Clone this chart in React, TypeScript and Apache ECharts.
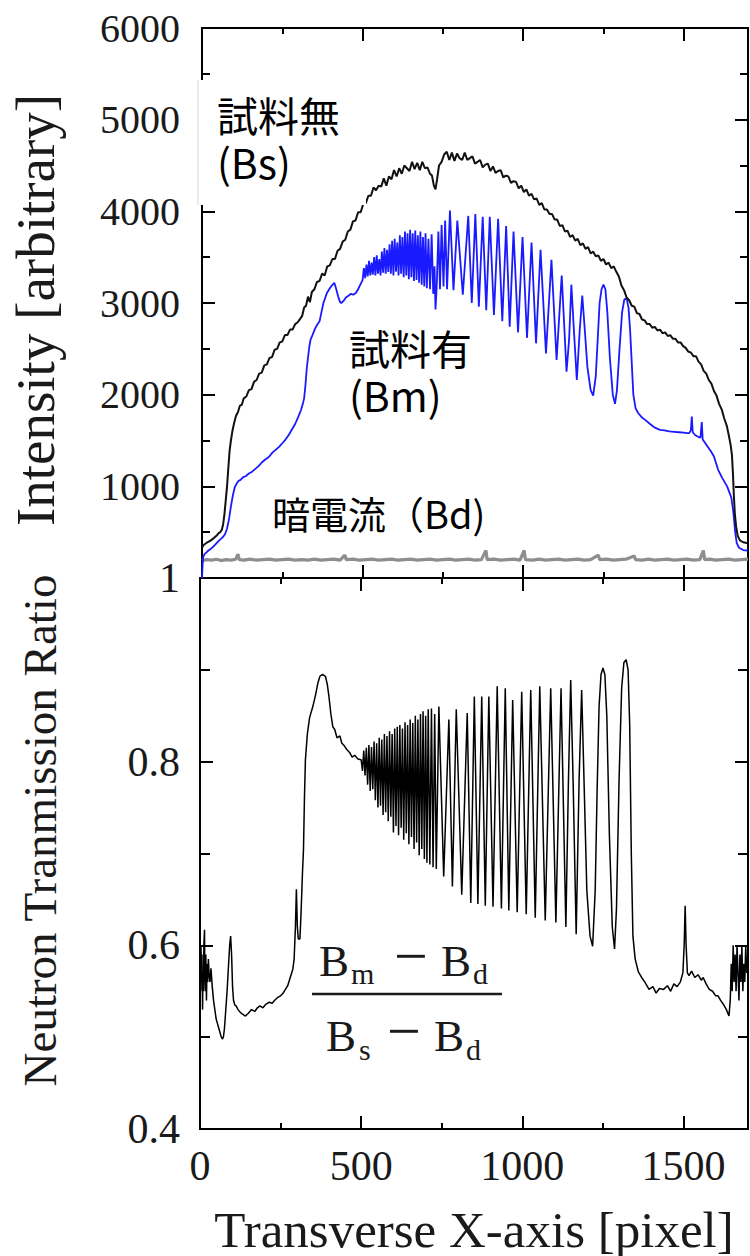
import React, { useEffect, useRef } from "react";
import * as echarts from "echarts";

// ---------- axis ranges / ticks ----------
const X_MIN = 0;
const X_MAX = 1700;
const X_MAJOR = 500;
const X_MINOR = 250;
const I_MIN = 0;
const I_MAX = 6000;
const I_STEP = 1000;
const R_MIN = 0.4;
const R_MAX = 1;
const R_STEP = 0.2;

// ---------- texts ----------
const xTitle = "Transverse X-axis [pixel]";
const yTopTitle = "Intensity [arbitrary]";
const yBottomTitle = "Neutron Tranmission Ratio";
const labelBs = "試料無\n(Bs)";
const labelBm = "試料有\n(Bm)";
const labelBd = "暗電流（Bd)";

// ---------- data: Bs (sample free, black) ----------
const bsData: [number, number][] = [
  [0, 330], [5, 360], [15, 385], [25, 405], [35, 430], [45, 460], [52, 490], [58, 505], [62, 530], [66, 590],
  [70, 700], [74, 850], [78, 1000], [82, 1200], [86, 1390], [90, 1500], [95, 1610], [100, 1690], [106, 1770],
  [112, 1810], [118, 1880], [124, 1890], [130, 1960], [138, 1980], [146, 2050], [154, 2060], [162, 2140],
  [170, 2160], [178, 2230], [186, 2240], [194, 2320], [202, 2330], [210, 2400], [218, 2410], [226, 2490],
  [234, 2500], [242, 2570], [250, 2580], [258, 2650], [266, 2650], [274, 2710], [282, 2710], [290, 2770],
  [298, 2790], [306, 2830], [312, 2860], [318, 2950], [324, 2970], [330, 3070], [336, 3010], [342, 3120],
  [350, 3150], [358, 3230], [366, 3240], [374, 3320], [382, 3300], [390, 3400], [398, 3410], [406, 3480],
  [414, 3480], [422, 3570], [430, 3590], [438, 3670], [446, 3690], [454, 3780], [462, 3800], [470, 3890],
  [478, 3900], [486, 3990], [494, 3990], [502, 4080], [510, 4090], [518, 4170], [526, 4170], [534, 4260],
  [542, 4230], [550, 4280], [558, 4270], [566, 4360], [574, 4280], [582, 4380], [590, 4350], [598, 4450],
  [606, 4380], [614, 4470], [622, 4410], [630, 4500], [638, 4470], [646, 4440], [654, 4540], [662, 4460],
  [670, 4530], [678, 4450], [686, 4540], [694, 4470], [702, 4480], [710, 4410], [716, 4390], [722, 4280],
  [727, 4240], [732, 4350], [738, 4500], [746, 4540], [754, 4620], [762, 4650], [770, 4560], [778, 4640],
  [786, 4550], [794, 4630], [802, 4580], [810, 4560], [818, 4640], [826, 4560], [834, 4580], [842, 4600],
  [850, 4520], [858, 4540], [866, 4560], [874, 4480], [882, 4510], [890, 4520], [898, 4440], [906, 4490],
  [914, 4420], [922, 4440], [930, 4450], [938, 4370], [946, 4390], [954, 4380], [962, 4310], [970, 4330],
  [978, 4320], [986, 4250], [994, 4280], [1002, 4210], [1010, 4240], [1018, 4170], [1026, 4190],
  [1034, 4130], [1042, 4140], [1050, 4070], [1058, 4090], [1066, 4020], [1074, 4020], [1082, 3970],
  [1090, 3970], [1098, 3910], [1106, 3910], [1114, 3840], [1122, 3850], [1130, 3780], [1138, 3790],
  [1146, 3720], [1154, 3740], [1162, 3680], [1170, 3700], [1178, 3630], [1186, 3650], [1194, 3590],
  [1202, 3610], [1210, 3540], [1218, 3560], [1226, 3510], [1234, 3520], [1242, 3460], [1250, 3480],
  [1258, 3420], [1266, 3440], [1274, 3380], [1282, 3400], [1290, 3340], [1298, 3290], [1306, 3190],
  [1314, 3140], [1322, 3060], [1330, 3030], [1338, 2970], [1346, 2960], [1354, 2890], [1362, 2880],
  [1370, 2820], [1378, 2810], [1386, 2770], [1394, 2770], [1402, 2730], [1410, 2740], [1418, 2700],
  [1426, 2710], [1434, 2670], [1442, 2680], [1450, 2640], [1458, 2650], [1466, 2610], [1474, 2610],
  [1482, 2570], [1490, 2570], [1498, 2530], [1506, 2510], [1514, 2470], [1522, 2460], [1530, 2420],
  [1538, 2420], [1546, 2360], [1554, 2330], [1562, 2260], [1570, 2230], [1578, 2160], [1586, 2120],
  [1594, 2040], [1602, 1990], [1610, 1900], [1618, 1840], [1626, 1740], [1634, 1660], [1640, 1560],
  [1646, 1450], [1650, 1340], [1653, 1150], [1656, 900], [1659, 700], [1663, 560], [1668, 460],
  [1675, 410], [1685, 390], [1700, 380],
];

// ---------- data: Bm (with sample, blue) ----------
const bmData: [number, number][] = [
  [0, 0], [2, 150], [4, 230], [8, 260], [14, 280], [20, 300], [28, 320], [36, 345], [44, 375], [52, 405],
  [60, 430], [66, 450], [72, 480], [78, 540], [84, 640], [90, 780], [96, 900], [102, 990], [108, 1030],
  [114, 1060], [120, 1070], [128, 1100], [136, 1110], [146, 1140], [156, 1160], [166, 1190], [176, 1220],
  [186, 1260], [196, 1290], [208, 1320], [220, 1370], [230, 1400], [240, 1430], [250, 1470], [260, 1510],
  [270, 1560], [280, 1620], [290, 1680], [300, 1760], [308, 1830], [314, 1900], [318, 1960], [322, 2100],
  [326, 2280], [330, 2400], [334, 2520], [338, 2600], [344, 2650], [352, 2720], [358, 2760], [366, 2800],
  [372, 2900], [378, 3000], [384, 3060], [389, 3110], [396, 3150], [404, 3190], [412, 3220], [418, 3150],
  [424, 3070], [430, 3010], [434, 3000], [440, 3020], [448, 3060], [456, 3080], [464, 3100], [471, 3090],
  [479, 3110], [486, 3150], [493, 3200],
  [500, 3250], [504, 3380], [508, 3270], [512, 3420], [516, 3290], [520, 3460], [524, 3300], [528, 3440],
  [532, 3310], [536, 3500], [540, 3300], [544, 3520], [548, 3320], [552, 3480], [556, 3300], [560, 3560],
  [564, 3330], [568, 3600], [572, 3320], [576, 3580], [580, 3340], [584, 3640], [588, 3320], [592, 3680],
  [596, 3300], [600, 3700], [604, 3340], [608, 3660], [612, 3300], [616, 3740], [620, 3320], [624, 3720],
  [628, 3280], [632, 3780], [636, 3300], [640, 3760], [644, 3260], [648, 3800], [652, 3280], [656, 3760],
  [660, 3240], [664, 3790], [668, 3250], [672, 3740], [676, 3220], [680, 3780], [684, 3200], [688, 3720],
  [692, 3180], [696, 3760], [700, 3160], [705, 3700], [710, 3150], [715, 3750], [720, 3100], [724, 3400],
  [727, 2930], [731, 3200], [736, 3780], [741, 3150], [746, 3850], [752, 3180], [757, 3900], [763, 3150],
  [772, 4010], [783, 3140], [795, 3900], [812, 3090], [829, 3950], [840, 3000], [851, 3970], [862, 2960],
  [874, 3940], [885, 2920], [896, 3940], [909, 2870], [922, 3920], [935, 2800], [947, 3840], [958, 2740],
  [970, 3780], [984, 2680], [998, 3720], [1012, 2620], [1026, 3660], [1040, 2560], [1054, 3580],
  [1071, 2450], [1088, 3470], [1104, 2380], [1120, 3300], [1135, 2250], [1143, 2600], [1150, 3200],
  [1158, 2700], [1167, 2160], [1176, 2700], [1184, 3080], [1192, 2700], [1200, 2300], [1210, 2050],
  [1218, 1990], [1226, 2200], [1232, 2600], [1238, 3000], [1244, 3150], [1250, 3200], [1256, 3150],
  [1262, 2900], [1270, 2400], [1279, 2000], [1286, 1900], [1292, 2050], [1300, 2500], [1308, 2900],
  [1315, 3040], [1322, 3050], [1328, 2950], [1333, 2700], [1338, 2350], [1343, 2000], [1350, 1850],
  [1358, 1800], [1370, 1750], [1380, 1725], [1395, 1680], [1410, 1640], [1426, 1616], [1440, 1610],
  [1455, 1600], [1470, 1595], [1485, 1590], [1500, 1585], [1510, 1580], [1517, 1580], [1522, 1610],
  [1525, 1760], [1528, 1590], [1535, 1560], [1545, 1540], [1552, 1530], [1556, 1700], [1559, 1510],
  [1565, 1480], [1575, 1430], [1585, 1380], [1594, 1325], [1607, 1180], [1620, 1090], [1635, 1000],
  [1648, 880], [1655, 700], [1660, 500], [1665, 380], [1672, 330], [1685, 305], [1700, 300],
];

// ---------- data: Bd (dark current, gray) ----------
const bdData: [number, number][] = [
  [0, 190], [15, 200], [30, 195], [45, 205], [60, 190], [75, 200], [90, 195], [105, 205], [112, 260],
  [116, 200], [130, 195], [150, 205], [170, 195], [190, 200], [210, 205], [230, 195], [250, 200],
  [270, 205], [290, 195], [310, 200], [330, 195], [350, 205], [370, 195], [390, 200], [410, 205],
  [430, 195], [445, 250], [449, 200], [470, 205], [490, 195], [510, 200], [530, 205], [550, 195],
  [570, 200], [590, 205], [610, 195], [630, 200], [650, 205], [670, 195], [690, 200], [710, 205],
  [730, 195], [750, 200], [770, 205], [790, 195], [810, 200], [830, 205], [850, 195], [870, 200],
  [884, 300], [888, 200], [910, 205], [930, 195], [950, 200], [970, 205], [990, 195], [1003, 300],
  [1007, 200], [1030, 195], [1050, 205], [1070, 195], [1090, 200], [1110, 205], [1130, 195], [1150, 200],
  [1170, 205], [1190, 195], [1210, 200], [1234, 250], [1238, 200], [1260, 205], [1280, 195], [1300, 200],
  [1320, 205], [1346, 240], [1350, 200], [1370, 195], [1390, 205], [1410, 195], [1430, 200], [1450, 205],
  [1470, 195], [1490, 200], [1510, 205], [1530, 195], [1550, 200], [1561, 300], [1565, 200], [1580, 205],
  [1600, 195], [1620, 200], [1640, 205], [1660, 195], [1680, 200], [1700, 205],
];

// ---------- data: transmission ratio (bottom panel) ----------
const ratioData: [number, number][] = [
  [0, 0.58], [2, 0.55], [3, 0.6], [5, 0.56], [6, 0.59], [8, 0.53], [9, 0.57], [11, 0.55], [12, 0.6],
  [14, 0.617], [15, 0.57], [17, 0.55], [18, 0.59], [20, 0.54], [22, 0.58], [24, 0.56], [26, 0.585],
  [28, 0.57], [31, 0.56], [34, 0.575], [38, 0.555], [42, 0.54], [46, 0.53], [50, 0.52], [54, 0.515],
  [58, 0.51], [62, 0.505], [66, 0.5], [70, 0.498], [73, 0.501], [76, 0.51], [80, 0.53], [84, 0.55],
  [88, 0.575], [92, 0.6], [95, 0.61], [98, 0.59], [101, 0.555], [104, 0.54], [108, 0.535], [112, 0.534],
  [118, 0.53], [125, 0.527], [132, 0.525], [141, 0.523], [150, 0.526], [160, 0.53], [170, 0.528],
  [178, 0.532], [186, 0.534], [195, 0.532], [205, 0.536], [215, 0.538], [224, 0.537], [231, 0.54],
  [240, 0.543], [250, 0.545], [258, 0.548], [265, 0.552], [272, 0.556], [280, 0.565], [288, 0.574],
  [292, 0.585], [296, 0.62], [299, 0.661], [302, 0.62], [305, 0.607], [310, 0.607], [314, 0.64],
  [318, 0.68], [321, 0.704], [324, 0.76], [327, 0.802], [333, 0.83], [340, 0.848], [350, 0.86],
  [358, 0.872], [366, 0.886], [372, 0.893], [380, 0.895], [389, 0.893], [395, 0.884], [400, 0.871],
  [406, 0.852], [412, 0.838], [418, 0.835], [425, 0.826], [434, 0.828], [440, 0.82], [446, 0.818],
  [456, 0.813], [464, 0.81], [472, 0.805], [480, 0.807], [490, 0.803],
  [500, 0.802], [504, 0.79], [508, 0.812], [512, 0.785], [516, 0.815], [520, 0.775], [524, 0.818],
  [528, 0.768], [532, 0.816], [536, 0.77], [540, 0.822], [544, 0.758], [548, 0.82], [552, 0.75],
  [556, 0.826], [560, 0.752], [564, 0.824], [568, 0.742], [572, 0.83], [576, 0.745], [580, 0.828],
  [584, 0.735], [588, 0.833], [592, 0.74], [596, 0.83], [600, 0.723], [604, 0.836], [608, 0.73],
  [612, 0.838], [616, 0.72], [620, 0.84], [624, 0.728], [628, 0.836], [632, 0.715], [636, 0.843],
  [640, 0.722], [644, 0.84], [648, 0.71], [652, 0.846], [656, 0.718], [660, 0.842], [664, 0.705],
  [668, 0.85], [672, 0.712], [676, 0.846], [680, 0.698], [684, 0.852], [688, 0.705], [692, 0.855],
  [696, 0.694], [700, 0.85], [704, 0.69], [708, 0.857], [713, 0.688], [718, 0.858], [723, 0.685],
  [728, 0.852], [733, 0.683],
  [741, 0.86], [756, 0.675], [772, 0.846], [783, 0.664], [795, 0.857], [812, 0.655], [829, 0.853],
  [840, 0.646], [851, 0.871], [862, 0.645], [874, 0.871], [885, 0.643], [896, 0.871], [909, 0.642],
  [922, 0.882], [935, 0.64], [947, 0.88], [958, 0.638], [970, 0.867], [984, 0.636], [998, 0.876],
  [1012, 0.634], [1026, 0.878], [1040, 0.63], [1054, 0.882], [1071, 0.627], [1088, 0.88], [1104, 0.625],
  [1120, 0.88], [1135, 0.62], [1143, 0.78], [1150, 0.889], [1158, 0.77], [1167, 0.612], [1176, 0.78],
  [1184, 0.878], [1192, 0.77], [1200, 0.66], [1210, 0.61], [1218, 0.599], [1226, 0.66], [1232, 0.77],
  [1238, 0.86], [1244, 0.895], [1250, 0.902], [1256, 0.895], [1262, 0.85], [1270, 0.72], [1279, 0.62],
  [1286, 0.596], [1292, 0.64], [1300, 0.78], [1308, 0.88], [1315, 0.908], [1322, 0.911], [1328, 0.9],
  [1333, 0.84], [1338, 0.7], [1343, 0.61], [1350, 0.585], [1360, 0.571], [1370, 0.565], [1380, 0.56],
  [1393, 0.552], [1405, 0.555], [1415, 0.548], [1425, 0.553], [1438, 0.552], [1450, 0.556], [1460, 0.55],
  [1470, 0.558], [1480, 0.555], [1490, 0.56], [1498, 0.57], [1502, 0.6], [1505, 0.643], [1508, 0.6],
  [1512, 0.57], [1517, 0.567], [1525, 0.572], [1535, 0.565], [1545, 0.568], [1555, 0.562], [1561, 0.565],
  [1570, 0.558], [1580, 0.552], [1590, 0.55], [1600, 0.545], [1607, 0.545], [1615, 0.54], [1625, 0.535],
  [1633, 0.53], [1641, 0.523], [1645, 0.54], [1648, 0.58], [1651, 0.55], [1654, 0.6], [1657, 0.56],
  [1660, 0.59], [1663, 0.55], [1666, 0.6], [1669, 0.57], [1672, 0.54], [1675, 0.59], [1678, 0.56],
  [1681, 0.6], [1684, 0.55], [1687, 0.58], [1690, 0.56], [1693, 0.6], [1696, 0.57], [1700, 0.58],
];

const SERIF = '"Liberation Serif", "Times New Roman", serif';
const CJK = '"Noto Sans CJK JP", "Noto Sans", sans-serif';
const INK = "#1a1a1a";

function xAxisCfg(gridIndex: number, position: "top" | "bottom", interval: number, tickLen: number, extra: any = {}) {
  return {
    type: "value",
    gridIndex,
    position,
    min: X_MIN,
    max: X_MAX,
    interval,
    axisLine: { show: true, onZero: false, lineStyle: { color: "#000", width: 2 } },
    axisTick: { show: true, inside: true, length: tickLen, lineStyle: { color: "#000", width: 2 } },
    axisLabel: { show: false },
    splitLine: { show: false },
    ...extra,
  };
}

function yAxisCfg(gridIndex: number, position: "left" | "right", min: number, max: number, interval: number, minorLen: number, extra: any = {}) {
  return {
    type: "value",
    gridIndex,
    position,
    min,
    max,
    interval,
    axisLine: { show: true, onZero: false, lineStyle: { color: "#000", width: 2 } },
    axisTick: { show: true, inside: true, length: 13, lineStyle: { color: "#000", width: 2 } },
    minorTick: { show: true, splitNumber: 2, length: minorLen, lineStyle: { color: "#000", width: 2 } },
    axisLabel: { show: false },
    splitLine: { show: false },
    ...extra,
  };
}

function mathText(text: string, x: number, baseline: number, size: number) {
  // central baseline of Liberation Serif sits ~0.3375 em above the alphabetic baseline
  return {
    type: "text",
    z: 101,
    x,
    y: baseline - 0.3375 * size,
    style: {
      text,
      font: `${size}px ${SERIF}`,
      fill: INK,
      align: "left",
      verticalAlign: "middle",
    },
  };
}

export default function App() {
  const ref = useRef<HTMLDivElement>(null);

  useEffect(() => {
    if (!ref.current) return;
    const chart = echarts.init(ref.current, undefined, { renderer: "svg" });

    const BIG = 45;
    const SUB = 30;
    const OP = 60;
    const numBase = 976;
    const denBase = 1051;

    const option: any = {
      animation: false,
      backgroundColor: "#ffffff",
      textStyle: { fontFamily: SERIF },
      grid: [
        { left: 200, top: 28, width: 548, height: 550 },
        { left: 200, top: 578, width: 548, height: 552 },
      ],
      xAxis: [
        xAxisCfg(0, "bottom", X_MAJOR, 13),
        xAxisCfg(0, "bottom", X_MINOR, 6),
        xAxisCfg(0, "top", X_MAJOR, 13),
        xAxisCfg(0, "top", X_MINOR, 6),
        xAxisCfg(1, "bottom", X_MAJOR, 13, {
          axisLabel: {
            show: true,
            fontFamily: SERIF,
            fontSize: 42,
            color: INK,
            margin: 16,
            showMaxLabel: false,
            formatter: (v: number) => String(v),
          },
          name: xTitle,
          nameLocation: "middle",
          nameGap: 75,
          nameTextStyle: { fontFamily: SERIF, fontSize: 51, color: INK },
        }),
        xAxisCfg(1, "bottom", X_MINOR, 6),
        xAxisCfg(1, "top", X_MAJOR, 13),
        xAxisCfg(1, "top", X_MINOR, 6),
      ],
      yAxis: [
        yAxisCfg(0, "left", I_MIN, I_MAX, I_STEP, 8, {
          axisLabel: {
            show: true,
            fontFamily: SERIF,
            fontSize: 40,
            color: INK,
            margin: 22,
            showMinLabel: false,
            formatter: (v: number) => String(v),
          },
          name: yTopTitle,
          nameLocation: "middle",
          nameGap: 139,
          nameTextStyle: { fontFamily: SERIF, fontSize: 55, color: INK, padding: [0, 14, 0, 0] },
        }),
        yAxisCfg(0, "right", I_MIN, I_MAX, I_STEP, 8),
        yAxisCfg(1, "left", R_MIN, R_MAX, R_STEP, 10, {
          axisLabel: {
            show: true,
            fontFamily: SERIF,
            fontSize: 42,
            color: INK,
            margin: 20,
            formatter: (v: number) => (Math.abs(v - 1) < 1e-9 ? "1" : v.toFixed(1)),
          },
          name: yBottomTitle,
          nameLocation: "middle",
          nameGap: 137,
          nameTextStyle: { fontFamily: SERIF, fontSize: 47, color: INK, padding: [0, 0, 0, 46] },
        }),
        yAxisCfg(1, "right", R_MIN, R_MAX, R_STEP, 10),
      ],
      series: [
        {
          name: "Bd",
          type: "line",
          xAxisIndex: 0,
          yAxisIndex: 0,
          data: bdData,
          showSymbol: false,
          symbol: "none",
          silent: true,
          lineStyle: { color: "#8e8e8e", width: 3.2 },
          z: 2,
        },
        {
          name: "Bm",
          type: "line",
          xAxisIndex: 0,
          yAxisIndex: 0,
          data: bmData,
          showSymbol: false,
          symbol: "none",
          silent: true,
          lineStyle: { color: "#1a1aff", width: 1.8 },
          z: 3,
        },
        {
          name: "Bs",
          type: "line",
          xAxisIndex: 0,
          yAxisIndex: 0,
          data: bsData,
          showSymbol: false,
          symbol: "none",
          silent: true,
          lineStyle: { color: "#111111", width: 2 },
          z: 4,
        },
        {
          name: "Ratio",
          type: "line",
          xAxisIndex: 4,
          yAxisIndex: 2,
          data: ratioData,
          showSymbol: false,
          symbol: "none",
          silent: true,
          lineStyle: { color: "#000000", width: 1.5 },
          z: 3,
        },
      ],
      graphic: [
        {
          type: "rect",
          z: 100,
          shape: { x: 198, y: 80, width: 168, height: 125 },
          style: { fill: "#ffffff" },
        },
        {
          type: "line",
          z: 100,
          shape: { x1: 198, y1: 80, x2: 198, y2: 205 },
          style: { stroke: "#d9d9d9", lineWidth: 1 },
        },
        {
          type: "text",
          z: 101,
          x: 217,
          y: 90,
          style: {
            text: labelBs,
            font: `41px ${CJK}`,
            fill: "#000",
            lineHeight: 47,
            align: "left",
            verticalAlign: "top",
          },
        },
        {
          type: "text",
          z: 101,
          x: 349,
          y: 323,
          style: {
            text: labelBm,
            font: `41px ${CJK}`,
            fill: "#000",
            lineHeight: 47,
            align: "left",
            verticalAlign: "top",
          },
        },
        {
          type: "text",
          z: 101,
          x: 272,
          y: 489,
          style: {
            text: labelBd,
            font: `38px ${CJK}`,
            fill: "#000",
            lineHeight: 46,
            align: "left",
            verticalAlign: "top",
          },
        },
        // numerator  B_m − B_d
        mathText("B", 319, numBase, BIG),
        mathText("m", 351, numBase + 8, SUB),
        mathText("−", 394, numBase, OP),
        mathText("B", 441, numBase, BIG),
        mathText("d", 473, numBase + 8, SUB),
        {
          type: "line",
          z: 101,
          shape: { x1: 312, y1: 994, x2: 502, y2: 994 },
          style: { stroke: INK, lineWidth: 2.5 },
        },
        // denominator  B_s − B_d
        mathText("B", 326, denBase, BIG),
        mathText("s", 359, denBase + 9, SUB),
        mathText("−", 387, denBase, OP),
        mathText("B", 434, denBase, BIG),
        mathText("d", 466, denBase + 9, SUB),
      ],
    };

    chart.setOption(option);
    return () => {
      chart.dispose();
    };
  }, []);

  return (
    <div
      ref={ref}
      style={{ position: "absolute", left: 0, top: 0, width: 750, height: 1256, background: "#fff" }}
    />
  );
}
